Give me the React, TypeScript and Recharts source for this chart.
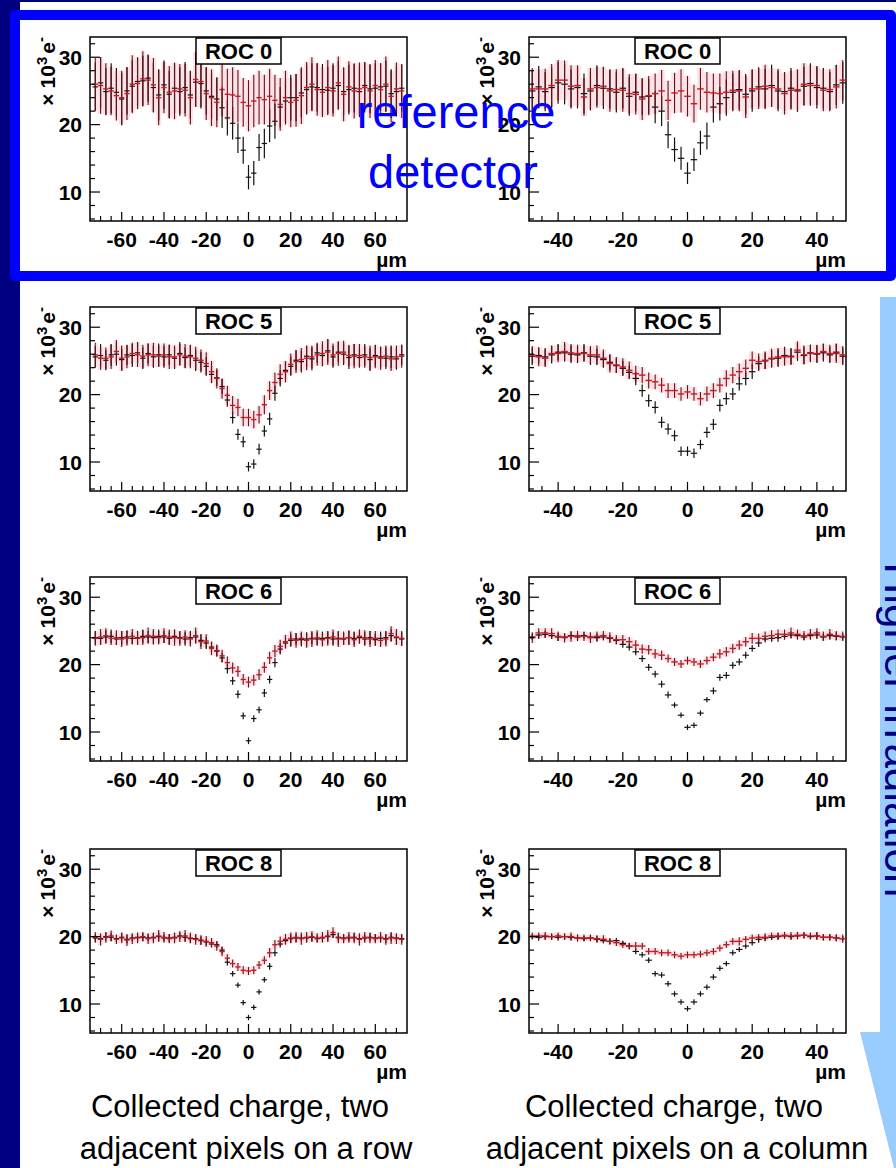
import React from "react";
import { Area, ComposedChart, ErrorBar, ReferenceArea, Scatter, XAxis, YAxis } from "recharts";

const FONT = "'Liberation Sans', Arial, Helvetica, sans-serif";

// bin centres, in µm
const rowX = [
  -72.5, -70, -67.5, -65, -62.5, -60, -57.5, -55, -52.5, -50,
  -47.5, -45, -42.5, -40, -37.5, -35, -32.5, -30, -27.5, -25,
  -22.5, -20, -17.5, -15, -12.5, -10, -7.5, -5, -2.5, 0,
  2.5, 5, 7.5, 10, 12.5, 15, 17.5, 20, 22.5, 25,
  27.5, 30, 32.5, 35, 37.5, 40, 42.5, 45, 47.5, 50,
  52.5, 55, 57.5, 60, 62.5, 65, 67.5, 70, 72.5,
];
const colX = [
  -48, -46, -44, -42, -40, -38, -36, -34, -32, -30,
  -28, -26, -24, -22, -20, -18, -16, -14, -12, -10,
  -8, -6, -4, -2, 0, 2, 4, 6, 8, 10,
  12, 14, 16, 18, 20, 22, 24, 26, 28, 30,
  32, 34, 36, 38, 40, 42, 44, 46, 48,
];

// ROC 0, row
const roc0RowRed = [
  26.0, 25.8, 25.3, 25.0, 24.3, 24.0, 24.6, 26.0, 26.1, 26.8,
  26.6, 25.9, 24.0, 25.5, 24.8, 25.0, 25.3, 25.1, 24.0, 26.7,
  26.4, 24.6, 24.0, 23.3, 25.2, 24.5, 24.4, 24.2, 23.3, 22.8,
  23.5, 24.0, 23.7, 24.2, 23.6, 23.0, 24.0, 23.3, 23.6, 24.3,
  25.5, 26.0, 25.2, 24.8, 25.5, 25.0, 26.2, 24.5, 25.6, 25.0,
  25.3, 25.5, 25.0, 25.8, 25.2, 26.0, 24.2, 25.3, 25.0,
];
const roc0RowRedErr = [
  3.9, 4.2, 3.8, 3.6, 3.7, 4.0, 3.9, 4.3, 3.8, 4.1,
  3.7, 4.0, 4.1, 3.8, 3.9, 4.2, 3.7, 3.9, 4.0, 4.1,
  3.8, 3.9, 4.2, 3.7, 4.0, 3.8, 4.1, 3.9, 3.6, 3.8,
  3.9, 4.0, 3.7, 4.1, 3.8, 3.9, 4.0, 3.7, 3.9, 4.2,
  3.8, 4.0, 3.9, 3.7, 4.1, 3.8, 3.9, 4.0, 3.8, 4.1,
  3.9, 3.7, 4.0, 3.8, 3.9, 4.1, 3.8, 3.9, 4.0,
];
const roc0RowBlack = [
  25.6, 26.2, 24.9, 25.4, 24.8, 23.8, 25.0, 25.7, 26.4, 26.5,
  26.9, 25.5, 24.4, 25.9, 24.5, 25.4, 24.9, 25.5, 24.4, 26.3,
  26.1, 25.0, 24.2, 23.8, 22.5, 21.0, 20.2, 18.0, 16.2, 12.2,
  12.8, 16.6, 17.2, 19.8, 20.5, 22.6, 23.5, 24.0, 24.0, 24.7,
  25.2, 25.6, 25.5, 25.2, 25.1, 25.4, 25.8, 24.9, 25.2, 25.4,
  24.9, 25.8, 25.3, 25.4, 25.6, 25.7, 24.6, 24.9, 25.4,
];
const roc0RowBlackErr = [
  3.6, 3.8, 3.5, 3.7, 3.6, 3.9, 3.5, 3.8, 3.6, 3.7,
  3.5, 3.7, 3.8, 3.6, 3.5, 3.7, 3.6, 3.8, 3.5, 3.6,
  3.7, 3.5, 3.4, 3.2, 3.0, 2.6, 2.4, 2.2, 2.0, 1.8,
  1.8, 2.0, 2.2, 2.4, 2.6, 3.0, 3.2, 3.4, 3.5, 3.6,
  3.7, 3.5, 3.6, 3.8, 3.5, 3.7, 3.6, 3.5, 3.7, 3.6,
  3.8, 3.5, 3.6, 3.7, 3.5, 3.8, 3.6, 3.7, 3.5,
];

// ROC 5, row
const roc5RowRed = [
  25.9, 25.4, 25.4, 25.6, 26.4, 25.4, 25.6, 26.1, 25.9, 25.7,
  25.9, 25.9, 25.7, 25.9, 25.6, 25.6, 25.9, 25.7, 25.6, 25.4,
  25.1, 24.6, 23.4, 22.4, 20.9, 19.9, 18.4, 18.1, 16.6, 16.6,
  16.3, 17.0, 18.5, 20.6, 21.8, 23.0, 23.4, 24.5, 24.9, 25.2,
  25.4, 25.6, 25.9, 26.1, 26.3, 25.9, 26.1, 26.3, 25.8, 25.7,
  25.8, 25.6, 25.5, 25.6, 25.4, 25.7, 25.3, 25.6, 25.7,
];
const roc5RowRedErr = [
  1.8, 1.7, 1.6, 1.8, 1.7, 1.9, 1.7, 1.6, 1.8, 1.7,
  1.7, 1.8, 1.6, 1.7, 1.8, 1.7, 1.6, 1.8, 1.7, 1.7,
  1.6, 1.7, 1.6, 1.5, 1.5, 1.4, 1.4, 1.3, 1.3, 1.3,
  1.3, 1.3, 1.4, 1.4, 1.5, 1.5, 1.6, 1.6, 1.7, 1.7,
  1.8, 1.7, 1.6, 1.8, 1.9, 1.7, 1.8, 1.7, 1.6, 1.8,
  1.7, 1.6, 1.8, 1.7, 1.7, 1.6, 1.8, 1.7, 1.7,
];
const roc5RowBlack = [
  25.6, 25.8, 25.1, 25.9, 26.0, 25.2, 25.9, 25.8, 26.2, 25.4,
  26.1, 25.6, 25.9, 25.6, 25.9, 25.4, 26.1, 25.5, 25.8, 25.1,
  24.8, 24.2, 23.0, 22.5, 21.2, 19.2, 16.6, 14.1, 13.0, 9.3,
  9.7, 11.9, 14.6, 16.4, 20.2, 22.4, 23.6, 24.2, 25.1, 24.9,
  25.7, 25.3, 26.2, 25.8, 26.5, 25.6, 26.3, 26.0, 25.5, 25.9,
  25.5, 25.9, 25.2, 25.8, 25.6, 25.4, 25.6, 25.3, 25.9,
];
const roc5RowBlackErr = [
  1.6, 1.7, 1.5, 1.6, 1.7, 1.6, 1.5, 1.7, 1.6, 1.6,
  1.5, 1.6, 1.7, 1.6, 1.5, 1.6, 1.7, 1.5, 1.6, 1.6,
  1.5, 1.4, 1.3, 1.2, 1.1, 1.0, 0.9, 0.8, 0.8, 0.7,
  0.7, 0.8, 0.8, 0.9, 1.1, 1.2, 1.3, 1.4, 1.5, 1.6,
  1.6, 1.7, 1.5, 1.6, 1.7, 1.6, 1.5, 1.6, 1.7, 1.6,
  1.5, 1.6, 1.7, 1.6, 1.5, 1.6, 1.7, 1.6, 1.5,
];

// ROC 6, row
const roc6RowRed = [
  23.9, 24.1, 24.3, 23.9, 24.0, 23.8, 23.9, 24.2, 23.9, 24.0,
  24.3, 24.2, 24.0, 24.3, 24.1, 24.0, 23.9, 24.1, 23.8, 24.3,
  23.4, 23.5, 22.4, 22.1, 21.3, 20.3, 19.5, 19.0, 17.8, 17.4,
  17.7, 18.5, 19.6, 21.0, 22.0, 22.7, 23.4, 23.8, 23.6, 23.9,
  23.6, 23.8, 24.0, 23.7, 23.9, 24.1, 23.8, 23.9, 24.0, 23.7,
  24.2, 24.0, 23.8, 23.9, 23.6, 23.8, 24.6, 24.1, 23.9,
];
const roc6RowRedErr = [
  1.1, 1.2, 1.1, 1.0, 1.1, 1.2, 1.1, 1.1, 1.0, 1.1,
  1.2, 1.1, 1.0, 1.1, 1.1, 1.2, 1.1, 1.0, 1.1, 1.2,
  1.1, 1.0, 1.0, 0.9, 0.9, 0.9, 0.8, 0.8, 0.8, 0.8,
  0.8, 0.8, 0.8, 0.9, 0.9, 1.0, 1.0, 1.1, 1.1, 1.0,
  1.1, 1.2, 1.1, 1.0, 1.1, 1.1, 1.2, 1.0, 1.1, 1.1,
  1.0, 1.1, 1.2, 1.1, 1.0, 1.1, 1.1, 1.2, 1.1,
];
const roc6RowBlack = [
  24.0, 23.9, 24.1, 24.2, 23.8, 24.0, 24.1, 23.9, 24.0, 24.2,
  24.1, 24.0, 24.2, 24.1, 23.9, 24.2, 24.0, 23.8, 24.0, 24.1,
  23.6, 23.2, 22.6, 22.0, 21.0, 19.4, 17.6, 15.6, 12.4, 8.7,
  12.0, 13.3, 15.8, 17.8, 20.3, 22.3, 23.2, 23.6, 23.8, 23.7,
  23.8, 23.9, 23.8, 23.9, 24.0, 23.8, 23.9, 23.8, 24.0, 23.9,
  24.0, 23.8, 24.0, 23.7, 23.9, 24.0, 24.3, 24.0, 23.8,
];
const roc6RowBlackErr = [
  1.0, 0.9, 1.0, 1.0, 0.9, 1.0, 1.0, 0.9, 1.0, 1.0,
  0.9, 1.0, 1.0, 0.9, 1.0, 1.0, 0.9, 1.0, 1.0, 0.9,
  0.9, 0.9, 0.8, 0.8, 0.7, 0.7, 0.6, 0.6, 0.5, 0.5,
  0.5, 0.5, 0.6, 0.6, 0.7, 0.8, 0.8, 0.9, 0.9, 1.0,
  1.0, 0.9, 1.0, 1.0, 0.9, 1.0, 1.0, 0.9, 1.0, 1.0,
  0.9, 1.0, 1.0, 0.9, 1.0, 1.0, 0.9, 1.0, 1.0,
];

// ROC 8, row
const roc8RowRed = [
  19.9, 19.6, 19.9, 20.1, 19.6, 19.8, 19.5, 19.7, 19.8, 20.0,
  19.7, 19.8, 20.1, 19.9, 19.7, 19.8, 20.0, 20.1, 19.8, 19.6,
  19.5, 19.3, 19.1, 18.6, 17.8, 16.8, 16.0, 15.5, 15.0, 14.9,
  15.0, 15.8, 16.5, 17.6, 18.8, 19.3, 19.6, 19.8, 19.9, 19.7,
  19.9, 20.0, 19.8, 19.9, 20.1, 20.6, 19.8, 19.7, 19.9, 19.8,
  19.6, 19.9, 19.8, 19.7, 19.9, 19.6, 19.8, 19.7, 19.6,
];
const roc8RowRedErr = [
  0.8, 0.9, 0.8, 0.8, 0.7, 0.8, 0.9, 0.8, 0.8, 0.7,
  0.8, 0.8, 0.9, 0.8, 0.7, 0.8, 0.8, 0.9, 0.8, 0.8,
  0.7, 0.8, 0.7, 0.7, 0.7, 0.6, 0.6, 0.6, 0.6, 0.6,
  0.6, 0.6, 0.6, 0.7, 0.7, 0.7, 0.8, 0.8, 0.8, 0.9,
  0.8, 0.8, 0.7, 0.8, 0.9, 0.8, 0.8, 0.7, 0.8, 0.8,
  0.9, 0.8, 0.8, 0.7, 0.8, 0.8, 0.9, 0.8, 0.8,
];
const roc8RowBlack = [
  19.8, 19.7, 20.0, 19.9, 19.7, 19.9, 19.6, 19.8, 19.9, 19.9,
  19.8, 19.9, 20.0, 19.8, 19.8, 19.9, 20.1, 19.9, 19.7, 19.7,
  19.4, 19.2, 18.9, 18.8, 18.0, 16.2, 14.5, 12.8, 10.2, 8.0,
  9.5, 11.8, 13.6, 15.6, 17.6, 18.9, 19.4, 19.7, 19.8, 19.8,
  19.8, 19.9, 19.7, 19.8, 20.0, 20.3, 19.9, 19.8, 19.8, 19.9,
  19.7, 19.8, 19.9, 19.8, 19.8, 19.7, 19.9, 19.8, 19.7,
];
const roc8RowBlackErr = [
  0.6, 0.5, 0.6, 0.6, 0.5, 0.6, 0.6, 0.5, 0.6, 0.6,
  0.5, 0.6, 0.6, 0.5, 0.6, 0.6, 0.5, 0.6, 0.6, 0.5,
  0.6, 0.5, 0.5, 0.5, 0.5, 0.5, 0.4, 0.4, 0.4, 0.4,
  0.4, 0.4, 0.4, 0.5, 0.5, 0.5, 0.5, 0.6, 0.6, 0.5,
  0.6, 0.6, 0.5, 0.6, 0.6, 0.5, 0.6, 0.6, 0.5, 0.6,
  0.6, 0.5, 0.6, 0.6, 0.5, 0.6, 0.6, 0.5, 0.6,
];

// ROC 0, column
const roc0ColRed = [
  25.3, 25.3, 25.3, 25.8, 26.6, 26.6, 25.7, 25.8, 24.1, 25.3,
  25.5, 25.7, 25.0, 25.2, 25.1, 24.6, 24.5, 23.8, 24.3, 24.6,
  25.0, 23.6, 24.7, 25.0, 24.2, 23.1, 25.3, 24.8, 24.7, 24.6,
  24.8, 25.1, 25.0, 24.1, 25.3, 25.3, 25.7, 25.5, 25.3, 24.6,
  25.1, 25.2, 26.0, 25.8, 25.8, 25.1, 25.2, 25.6, 26.6,
];
const roc0ColRedErr = [
  3.1, 2.9, 3.0, 3.2, 3.0, 2.9, 3.1, 3.0, 2.8, 3.1,
  3.0, 2.9, 3.1, 3.0, 3.2, 2.9, 3.0, 3.1, 2.9, 3.0,
  3.1, 2.9, 3.0, 3.2, 3.0, 2.8, 3.1, 3.0, 2.9, 3.0,
  3.1, 2.9, 3.0, 3.1, 2.9, 3.0, 3.2, 2.9, 3.0, 3.1,
  2.9, 3.0, 3.1, 3.0, 2.9, 3.1, 3.0, 3.2, 3.0,
];
const roc0ColBlack = [
  25.0, 25.6, 24.9, 25.5, 26.2, 26.0, 25.3, 25.5, 24.6, 25.0,
  25.8, 25.4, 25.3, 24.8, 25.4, 24.2, 24.8, 24.1, 24.2, 22.6,
  22.0, 18.5, 16.3, 15.0, 12.8, 14.8, 17.3, 18.3, 22.6, 23.1,
  24.0, 24.8, 25.2, 24.5, 25.0, 25.6, 25.3, 25.8, 25.0, 24.9,
  25.4, 25.0, 25.7, 26.1, 25.5, 25.4, 24.9, 25.9, 26.2,
];
const roc0ColBlackErr = [
  3.0, 3.1, 2.9, 3.0, 3.1, 3.0, 2.9, 3.1, 3.0, 2.9,
  3.0, 3.1, 2.9, 3.0, 3.0, 2.9, 2.8, 2.7, 2.6, 2.4,
  2.2, 2.0, 1.8, 1.7, 1.6, 1.7, 1.8, 2.0, 2.3, 2.5,
  2.7, 2.8, 2.9, 3.0, 3.1, 2.9, 3.0, 3.1, 3.0, 2.9,
  3.0, 3.1, 2.9, 3.0, 3.1, 3.0, 2.9, 3.0, 3.1,
];

// ROC 5, column
const roc5ColRed = [
  25.9, 25.6, 25.4, 26.1, 26.1, 26.4, 26.2, 26.1, 26.1, 25.9,
  25.9, 25.4, 24.6, 24.4, 24.1, 23.6, 23.1, 22.9, 22.1, 21.9,
  21.4, 20.6, 20.6, 20.1, 20.4, 20.1, 19.4, 20.1, 20.6, 21.4,
  22.4, 22.9, 23.4, 23.9, 25.1, 24.9, 25.1, 25.4, 25.6, 25.6,
  25.6, 26.6, 25.9, 26.1, 26.1, 26.4, 26.1, 26.1, 25.9,
];
const roc5ColRedErr = [
  1.3, 1.4, 1.3, 1.2, 1.3, 1.4, 1.3, 1.3, 1.2, 1.3,
  1.4, 1.3, 1.3, 1.2, 1.3, 1.3, 1.2, 1.2, 1.2, 1.1,
  1.1, 1.1, 1.1, 1.0, 1.0, 1.0, 1.0, 1.1, 1.1, 1.1,
  1.2, 1.2, 1.2, 1.3, 1.3, 1.2, 1.3, 1.4, 1.3, 1.3,
  1.2, 1.3, 1.4, 1.3, 1.3, 1.2, 1.3, 1.4, 1.3,
];
const roc5ColBlack = [
  25.7, 25.8, 25.6, 25.9, 26.3, 26.2, 26.0, 25.9, 26.2, 25.7,
  25.6, 25.2, 24.8, 24.3, 23.9, 23.3, 22.4, 20.6, 19.1, 18.1,
  15.9, 14.9, 13.9, 11.6, 11.6, 11.3, 12.6, 14.4, 15.6, 18.4,
  19.4, 20.1, 21.6, 22.4, 23.4, 24.6, 25.0, 25.3, 25.4, 25.8,
  25.7, 26.3, 25.8, 26.2, 26.0, 26.2, 25.9, 26.3, 25.7,
];
const roc5ColBlackErr = [
  1.3, 1.2, 1.3, 1.3, 1.2, 1.3, 1.3, 1.2, 1.3, 1.3,
  1.2, 1.2, 1.2, 1.1, 1.1, 1.0, 1.0, 0.9, 0.9, 0.9,
  0.8, 0.8, 0.8, 0.7, 0.7, 0.7, 0.7, 0.8, 0.8, 0.9,
  0.9, 0.9, 1.0, 1.0, 1.1, 1.1, 1.2, 1.2, 1.3, 1.3,
  1.2, 1.3, 1.3, 1.2, 1.3, 1.3, 1.2, 1.3, 1.3,
];

// ROC 6, column
const roc6ColRed = [
  24.0, 24.7, 24.7, 24.6, 24.2, 24.0, 24.2, 24.3, 24.2, 24.0,
  24.2, 24.3, 24.0, 23.7, 23.7, 23.4, 22.9, 22.3, 22.2, 21.6,
  21.4, 20.9, 20.4, 20.1, 20.6, 20.4, 20.1, 20.6, 21.1, 21.6,
  21.9, 22.4, 22.9, 23.4, 23.9, 23.9, 24.2, 24.3, 24.5, 24.5,
  24.7, 24.5, 24.3, 24.5, 24.7, 24.2, 24.5, 24.3, 24.2,
];
const roc6ColRedErr = [
  0.8, 0.7, 0.7, 0.8, 0.7, 0.7, 0.8, 0.7, 0.7, 0.8,
  0.7, 0.7, 0.8, 0.7, 0.7, 0.7, 0.7, 0.7, 0.7, 0.7,
  0.7, 0.6, 0.6, 0.6, 0.6, 0.6, 0.6, 0.6, 0.6, 0.7,
  0.7, 0.7, 0.7, 0.7, 0.8, 0.7, 0.7, 0.8, 0.7, 0.7,
  0.8, 0.7, 0.7, 0.8, 0.7, 0.7, 0.8, 0.7, 0.7,
];
const roc6ColBlack = [
  24.1, 24.4, 24.5, 24.3, 24.1, 24.1, 24.3, 24.1, 24.3, 24.1,
  24.0, 24.1, 23.9, 23.6, 23.0, 22.6, 21.9, 20.9, 19.6, 18.6,
  17.1, 15.5, 14.0, 12.5, 10.7, 11.0, 12.8, 14.8, 16.1, 18.1,
  18.4, 19.9, 20.4, 21.4, 22.4, 23.2, 23.8, 23.9, 24.0, 24.2,
  24.4, 24.3, 24.1, 24.3, 24.4, 24.1, 24.3, 24.2, 24.1,
];
const roc6ColBlackErr = [
  0.5, 0.6, 0.5, 0.5, 0.6, 0.5, 0.5, 0.6, 0.5, 0.5,
  0.6, 0.5, 0.5, 0.5, 0.5, 0.5, 0.5, 0.5, 0.5, 0.5,
  0.5, 0.5, 0.4, 0.4, 0.4, 0.4, 0.4, 0.4, 0.5, 0.5,
  0.5, 0.5, 0.5, 0.5, 0.5, 0.6, 0.5, 0.5, 0.6, 0.5,
  0.5, 0.6, 0.5, 0.5, 0.6, 0.5, 0.5, 0.6, 0.5,
];

// ROC 8, column
const roc8ColRed = [
  20.1, 20.1, 20.1, 20.0, 20.1, 20.0, 20.0, 19.8, 19.8, 19.8,
  19.7, 19.6, 19.3, 19.1, 18.8, 18.6, 18.6, 18.6, 17.8, 17.8,
  17.6, 17.6, 17.3, 17.1, 17.3, 17.3, 17.4, 17.6, 17.8, 18.3,
  18.8, 19.3, 19.3, 19.6, 19.8, 19.9, 19.9, 20.1, 20.1, 20.2,
  20.1, 20.2, 20.2, 20.1, 20.1, 19.9, 19.9, 19.8, 19.7,
];
const roc8ColRedErr = [
  0.5, 0.5, 0.6, 0.5, 0.5, 0.5, 0.6, 0.5, 0.5, 0.5,
  0.5, 0.6, 0.5, 0.5, 0.5, 0.5, 0.6, 0.5, 0.5, 0.5,
  0.5, 0.5, 0.5, 0.5, 0.5, 0.5, 0.5, 0.5, 0.5, 0.5,
  0.5, 0.5, 0.6, 0.5, 0.5, 0.5, 0.6, 0.5, 0.5, 0.5,
  0.6, 0.5, 0.5, 0.5, 0.6, 0.5, 0.5, 0.5, 0.6,
];
const roc8ColBlack = [
  20.0, 19.9, 20.0, 20.0, 19.9, 20.0, 19.9, 19.8, 19.7, 19.8,
  19.6, 19.4, 19.3, 19.4, 19.0, 18.6, 17.8, 17.3, 16.5, 14.5,
  14.3, 13.0, 11.5, 10.3, 9.3, 10.3, 11.5, 12.5, 14.0, 15.3,
  16.0, 17.6, 18.1, 18.6, 19.1, 19.6, 19.8, 19.9, 20.0, 20.1,
  20.0, 20.1, 20.2, 20.0, 20.1, 19.9, 19.9, 19.8, 19.7,
];
const roc8ColBlackErr = [
  0.4, 0.5, 0.4, 0.4, 0.5, 0.4, 0.4, 0.5, 0.4, 0.4,
  0.5, 0.4, 0.4, 0.4, 0.4, 0.4, 0.4, 0.4, 0.4, 0.4,
  0.4, 0.4, 0.4, 0.4, 0.4, 0.4, 0.4, 0.4, 0.4, 0.4,
  0.4, 0.4, 0.4, 0.4, 0.4, 0.5, 0.4, 0.4, 0.5, 0.4,
  0.4, 0.5, 0.4, 0.4, 0.5, 0.4, 0.4, 0.5, 0.4,
];

// axis ticks
const rowTicks = [-70, -65, -60, -55, -50, -45, -40, -35, -30, -25, -20, -15, -10, -5, 0, 5, 10, 15, 20, 25, 30, 35, 40, 45, 50, 55, 60, 65, 70];
const rowLabels = [-60, -40, -20, 0, 20, 40, 60];
const colTicks = [-45, -40, -35, -30, -25, -20, -15, -10, -5, 0, 5, 10, 15, 20, 25, 30, 35, 40, 45];
const colLabels = [-40, -20, 0, 20, 40];
const yTicks = [6, 8, 10, 12, 14, 16, 18, 20, 22, 24, 26, 28, 30, 32];
const yLabels = [10, 20, 30];

const Y_DOMAIN: [number, number] = [5.7, 33];

// chart box geometry
const CW = 430;
const CH = 270;
const PL = 80;
const PT = 20;
const PW = 317;
const PH = 184;

const toPoints = (xs: number[], ys: number[], errs: number[], half: number) =>
  xs.map((x, i) => ({
    x,
    y: ys[i],
    ey: errs[i],
    ex: half,
    band: [ys[i] - errs[i], ys[i] + errs[i]],
  }));

const noMarker = () => <g />;

function XTick(props: any) {
  const { x, y, payload, labels } = props;
  const major = labels.includes(payload.value);
  return (
    <g>
      <line x1={x} x2={x} y1={y} y2={y - (major ? 9 : 5)} stroke="#000" strokeWidth={1.2} />
      {major && (
        <text x={x} y={y + 26} textAnchor="middle" fontSize={21} fontWeight="bold" fontFamily={FONT} fill="#000">
          {payload.value}
        </text>
      )}
    </g>
  );
}

function YTick(props: any) {
  const { x, y, payload } = props;
  const major = yLabels.includes(payload.value);
  return (
    <g>
      <line x1={x} x2={x + (major ? 10 : 5)} y1={y} y2={y} stroke="#000" strokeWidth={1.2} />
      {major && (
        <text x={x - 8} y={y + 7.5} textAnchor="end" fontSize={21} fontWeight="bold" fontFamily={FONT} fill="#000">
          {payload.value}
        </text>
      )}
    </g>
  );
}

interface PanelProps {
  left: number;
  top: number;
  label: string;
  xs: number[];
  half: number;
  domain: [number, number];
  ticks: number[];
  labels: number[];
  red: number[];
  redErr: number[];
  black: number[];
  blackErr: number[];
}

function Panel(p: PanelProps) {
  const redPts = toPoints(p.xs, p.red, p.redErr, p.half);
  const blackPts = toPoints(p.xs, p.black, p.blackErr, p.half);
  return (
    <div style={{ position: "absolute", left: p.left, top: p.top, width: CW, height: CH }}>
      <ComposedChart
        width={CW}
        height={CH}
        data={redPts}
        margin={{ top: PT, right: CW - PL - PW, bottom: 0, left: 0 }}
      >
        <XAxis
          dataKey="x"
          type="number"
          domain={p.domain}
          allowDataOverflow
          ticks={p.ticks}
          interval={0}
          tickSize={0}
          tickMargin={0}
          tickLine={false}
          axisLine={false}
          height={CH - PT - PH}
          tick={(t: any) => <XTick {...t} labels={p.labels} />}
        />
        <YAxis
          type="number"
          domain={Y_DOMAIN}
          allowDataOverflow
          ticks={yTicks}
          interval={0}
          width={PL}
          tickSize={0}
          tickMargin={0}
          tickLine={false}
          axisLine={false}
          tick={(t: any) => <YTick {...t} />}
        />
        <Area
          dataKey="band"
          type="step"
          fill="#f4a3b0"
          fillOpacity={0.3}
          stroke="none"
          dot={false}
          activeDot={false}
          isAnimationActive={false}
        />
        <Scatter data={blackPts} dataKey="y" shape={noMarker} isAnimationActive={false}>
          <ErrorBar dataKey="ey" direction="y" width={0} stroke="#111" strokeWidth={1.2} />
          <ErrorBar dataKey="ex" direction="x" width={0} stroke="#111" strokeWidth={1.2} />
        </Scatter>
        <Scatter data={redPts} dataKey="y" shape={noMarker} isAnimationActive={false}>
          <ErrorBar dataKey="ey" direction="y" width={0} stroke="#6a1018" strokeWidth={1.1} />
          <ErrorBar dataKey="ex" direction="x" width={0} stroke="#d4141e" strokeWidth={1.4} />
        </Scatter>
        <ReferenceArea
          x1={p.domain[0]}
          x2={p.domain[1]}
          y1={Y_DOMAIN[0]}
          y2={Y_DOMAIN[1]}
          fill="none"
          stroke="#000"
          strokeWidth={1.5}
          ifOverflow="visible"
        />
      </ComposedChart>
      <svg
        width={CW}
        height={CH}
        style={{ position: "absolute", left: 0, top: 0, pointerEvents: "none", overflow: "visible" }}
      >
        <text
          transform={`rotate(-90 ${PL - 35} ${PT})`}
          x={PL - 35}
          y={PT}
          textAnchor="end"
          fontSize={21}
          fontWeight="bold"
          fontFamily={FONT}
          fill="#000"
        >
          {"\u00d7"}
          <tspan dx={5}>10</tspan>
          <tspan dy={-8} fontSize={15}>3</tspan>
          <tspan dy={8} dx={3}>e</tspan>
          <tspan dy={-9} fontSize={15}>-</tspan>
        </text>
        <rect x={PL + 106} y={PT + 1} width={85} height={26} fill="#fff" stroke="#000" strokeWidth={1.5} />
        <text
          x={PL + 148.5}
          y={PT + 22}
          textAnchor="middle"
          fontSize={22}
          fontWeight="bold"
          fontFamily={FONT}
          fill="#000"
        >
          {p.label}
        </text>
        <text
          x={PL + PW}
          y={PT + PH + 46}
          textAnchor="end"
          fontSize={21}
          fontWeight="bold"
          fontFamily={FONT}
          fill="#000"
        >
          {"\u00b5m"}
        </text>
      </svg>
    </div>
  );
}

const ROW_DOMAIN: [number, number] = [-75, 75];
const COL_DOMAIN: [number, number] = [-49, 49];

const panels: PanelProps[] = [
  { left: 10, top: 17, label: "ROC 0", xs: rowX, half: 1.25, domain: ROW_DOMAIN, ticks: rowTicks, labels: rowLabels, red: roc0RowRed, redErr: roc0RowRedErr, black: roc0RowBlack, blackErr: roc0RowBlackErr },
  { left: 449, top: 17, label: "ROC 0", xs: colX, half: 1, domain: COL_DOMAIN, ticks: colTicks, labels: colLabels, red: roc0ColRed, redErr: roc0ColRedErr, black: roc0ColBlack, blackErr: roc0ColBlackErr },
  { left: 10, top: 287, label: "ROC 5", xs: rowX, half: 1.25, domain: ROW_DOMAIN, ticks: rowTicks, labels: rowLabels, red: roc5RowRed, redErr: roc5RowRedErr, black: roc5RowBlack, blackErr: roc5RowBlackErr },
  { left: 449, top: 287, label: "ROC 5", xs: colX, half: 1, domain: COL_DOMAIN, ticks: colTicks, labels: colLabels, red: roc5ColRed, redErr: roc5ColRedErr, black: roc5ColBlack, blackErr: roc5ColBlackErr },
  { left: 10, top: 557, label: "ROC 6", xs: rowX, half: 1.25, domain: ROW_DOMAIN, ticks: rowTicks, labels: rowLabels, red: roc6RowRed, redErr: roc6RowRedErr, black: roc6RowBlack, blackErr: roc6RowBlackErr },
  { left: 449, top: 557, label: "ROC 6", xs: colX, half: 1, domain: COL_DOMAIN, ticks: colTicks, labels: colLabels, red: roc6ColRed, redErr: roc6ColRedErr, black: roc6ColBlack, blackErr: roc6ColBlackErr },
  { left: 10, top: 829, label: "ROC 8", xs: rowX, half: 1.25, domain: ROW_DOMAIN, ticks: rowTicks, labels: rowLabels, red: roc8RowRed, redErr: roc8RowRedErr, black: roc8RowBlack, blackErr: roc8RowBlackErr },
  { left: 449, top: 829, label: "ROC 8", xs: colX, half: 1, domain: COL_DOMAIN, ticks: colTicks, labels: colLabels, red: roc8ColRed, redErr: roc8ColRedErr, black: roc8ColBlack, blackErr: roc8ColBlackErr },
];

export default function App() {
  return (
    <div
      style={{
        position: "absolute",
        left: 0,
        top: 0,
        width: 896,
        height: 1168,
        background: "#fff",
        overflow: "hidden",
        fontFamily: FONT,
      }}
    >
      <div style={{ position: "absolute", left: 0, top: 0, width: 20, height: 1168, background: "#000080" }} />
      <div style={{ position: "absolute", left: 0, top: 0, width: 896, height: 2, background: "#000080" }} />
      <div
        style={{
          position: "absolute",
          left: 10,
          top: 10,
          width: 886,
          height: 271,
          border: "10px solid #0000ff",
          borderRadius: 5,
          boxSizing: "border-box",
          background: "#fff",
        }}
      />
      <svg width={896} height={1168} style={{ position: "absolute", left: 0, top: 0 }}>
        <polygon
          points="880,297 920,297 920,1032 940,1032 900,1192 860,1032 880,1032"
          fill="#99ccff"
        />
        <text
          transform="rotate(90 885 730)"
          x={885}
          y={730}
          textAnchor="middle"
          fontSize={44}
          fontFamily={FONT}
          fill="#000080"
        >
          Higher irradiation
        </text>
      </svg>
      {panels.map((p, i) => (
        <Panel key={i} {...p} />
      ))}
      <svg
        width={896}
        height={1168}
        style={{ position: "absolute", left: 0, top: 0, pointerEvents: "none" }}
      >
        <text x={456} y={128} textAnchor="middle" fontSize={47} fontFamily={FONT} fill="#0000ff">
          reference
        </text>
        <text x={453} y={188} textAnchor="middle" fontSize={47} fontFamily={FONT} fill="#0000ff">
          detector
        </text>
        <text x={240} y={1117} textAnchor="middle" fontSize={31} fontFamily={FONT} fill="#000">
          Collected charge, two
        </text>
        <text x={246} y={1159} textAnchor="middle" fontSize={31} fontFamily={FONT} fill="#000">
          adjacent pixels on a row
        </text>
        <text x={674} y={1117} textAnchor="middle" fontSize={31} fontFamily={FONT} fill="#000">
          Collected charge, two
        </text>
        <text x={677} y={1159} textAnchor="middle" fontSize={31} fontFamily={FONT} fill="#000">
          adjacent pixels on a column
        </text>
      </svg>
    </div>
  );
}
